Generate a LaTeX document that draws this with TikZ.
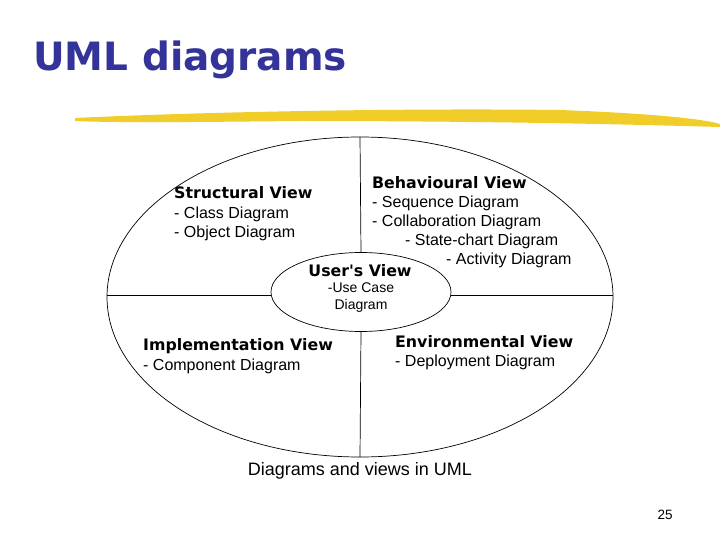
\documentclass[tikz,border=0pt]{standalone}
\usepackage{fontspec}
\usetikzlibrary{shapes.geometric}
\setmainfont{Liberation Sans}
\newfontfamily\headf{DejaVu Sans}
\definecolor{titleblue}{RGB}{51,51,153}
\definecolor{brush}{RGB}{240,205,40}
\begin{document}
\begin{tikzpicture}[x=1pt,y=-1pt,
  txt/.style={anchor=west,inner sep=0pt,font=\fontsize{16}{18}\selectfont},
  hd/.style={anchor=west,inner sep=0pt,font=\headf\bfseries\fontsize{15.8}{18}\selectfont},
  ln/.style={draw=black,line width=0.7pt}]
\useasboundingbox (0,0) rectangle (720,540);
\node[anchor=west,inner sep=0pt,text=titleblue,font=\headf\bfseries\fontsize{39}{42}\selectfont] (title) at (33,60) {UML diagrams};
\fill[brush] (75,118) .. controls (200,112) and (400,108) .. (560,110) .. controls (640,113) and (700,118) .. (720,124) -- (720,127) .. controls (650,125) and (500,121) .. (300,121) .. controls (200,122) and (120,123) .. (75,121) -- cycle;
\draw[ln] (360,297) ellipse[x radius=253,y radius=160];
\node[ln,ellipse,minimum width=180,minimum height=79,inner sep=0pt] (u) at (361,292) {};
\coordinate (T) at (360,137); \coordinate (B) at (360,457);
\coordinate (L) at (107,295); \coordinate (R) at (613,295);
\draw[ln] (T) -- (u.north); \draw[ln] (u.south) -- (B);
\draw[ln] (L) -- (L -| u.west); \draw[ln] (R -| u.east) -- (R);
\node[hd] (s) at (174,193) {Structural View};
\node[txt] (s1) at (174,214) {- Class Diagram};
\node[txt] (s2) at (174,233) {- Object Diagram};
\node[hd] (b) at (372,183) {Behavioural View};
\node[txt] (b1) at (372,203) {- Sequence Diagram};
\node[txt] (b2) at (372,222) {- Collaboration Diagram};
\node[txt] (b3) at (405,241) {- State-chart Diagram};
\node[txt] (b4) at (446,260) {- Activity Diagram};
\node[hd,anchor=center] (uv) at (360,271) {User's View};
\node[txt,anchor=center,font=\fontsize{14}{16}\selectfont] (u1) at (361,288) {-Use Case};
\node[txt,anchor=center,font=\fontsize{14}{16}\selectfont] (u2) at (361,306) {Diagram};
\node[hd] (i) at (143,346) {Implementation View};
\node[txt] (i1) at (143,366) {- Component Diagram};
\node[hd] (e) at (395,342) {Environmental View};
\node[txt] (e1) at (395,362) {- Deployment Diagram};
\node[txt,anchor=center,font=\fontsize{18}{20}\selectfont] (cap) at (360,471) {Diagrams and views in UML};
\node[txt,anchor=center,font=\fontsize{13.5}{15}\selectfont] (pg) at (665,515) {25};
\end{tikzpicture}
\end{document}
